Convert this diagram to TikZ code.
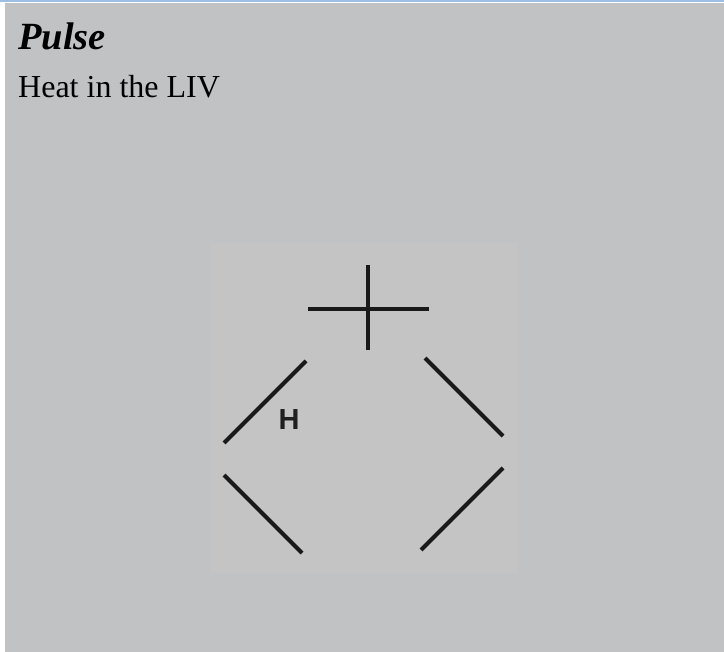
\documentclass[tikz,border=0pt]{standalone}
\usepackage{fontspec}
\setmainfont{Liberation Serif}
\newfontfamily\hfont{Liberation Sans}
\begin{document}
\begin{tikzpicture}[x=1pt,y=-1pt,
  stroke/.style={line width=3.9pt,draw=black!90,line cap=butt},
  title/.style={anchor=base west,inner sep=0pt,font=\fontsize{38.5}{44}\selectfont\bfseries\itshape},
  sub/.style={anchor=base west,inner sep=0pt,font=\fontsize{32}{38}\selectfont}]
\definecolor{bgc}{HTML}{C1C2C4}
\definecolor{innerc}{HTML}{C4C4C4}
\definecolor{topline}{HTML}{9DBFE3}
\useasboundingbox (0,0) rectangle (724,652);
\fill[white] (0,0) rectangle (724,652);
\fill[bgc] (4.5,3.5) rectangle (724,652);
\fill[topline] (0,0) rectangle (724,2);
\fill[innerc] (211,243) rectangle (518,573);
\node[title] (t) at (18,50) {Pulse};
\node[sub] (s) at (18,98) {Heat in the LIV};
% cross
\draw[stroke] (308,309) -- (429,309);
\draw[stroke] (368,265) -- (368,350);
% diagonals
\draw[stroke] (306,361) -- (224,443);
\draw[stroke] (425,358) -- (503,436);
\draw[stroke] (224,475) -- (302,553);
\draw[stroke] (503,468) -- (421,550);
\node[inner sep=0pt,font=\hfont\bfseries\fontsize{29}{32}\selectfont,text=black!88] (h) at (289,420) {H};
\end{tikzpicture}
\end{document}
